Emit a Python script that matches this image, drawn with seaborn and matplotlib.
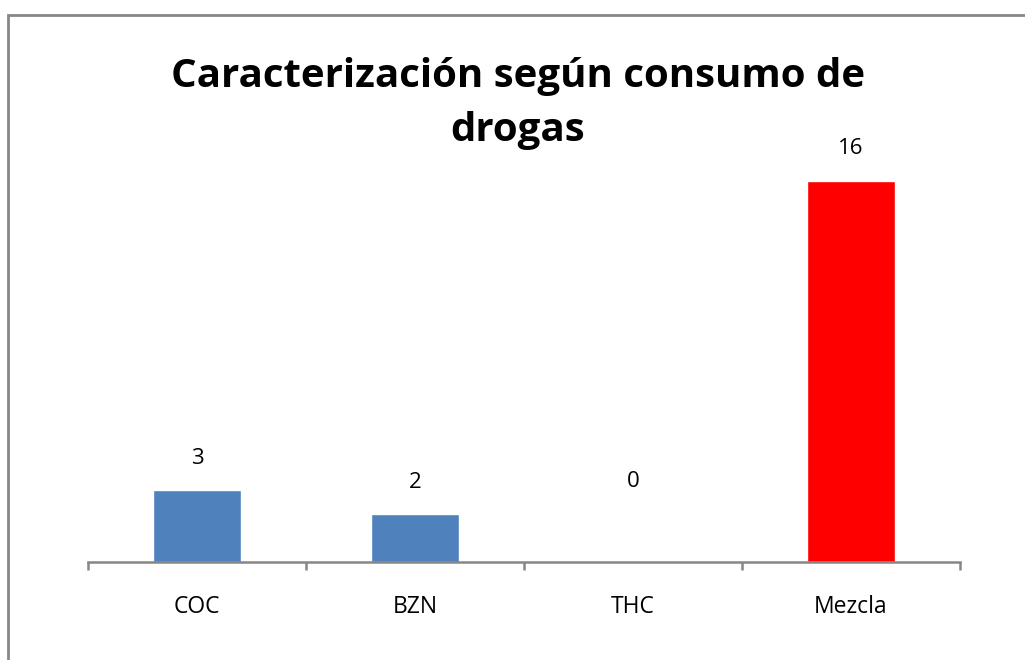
import matplotlib
matplotlib.use("Agg")
import matplotlib.pyplot as plt
from matplotlib.patches import Rectangle
from matplotlib.ticker import FixedLocator
import seaborn as sns
import pandas as pd

categories = ["COC", "BZN", "THC", "Mezcla"]
values = [3, 2, 0, 16]
bar_colors = ["#4F81BD", "#4F81BD", "#4F81BD", "#FF0000"]
title_lines = ["Caracterización según consumo de", "drogas"]

sns.set_theme(style="white")
plt.rcParams["font.family"] = ["Open Sans", "DejaVu Sans"]

df = pd.DataFrame({"droga": categories, "casos": values})

fig = plt.figure(figsize=(10.25, 6.6), dpi=100)
fig.patch.set_facecolor("white")

# chart frame (clipped at right and bottom edges)
fig.patches.append(Rectangle((8 / 1025, -0.1), 1.2, 1 - 15 / 660 + 0.1,
                             transform=fig.transFigure, fill=False,
                             edgecolor="#878787", linewidth=2))

ax = fig.add_axes([88 / 1025, 1 - 561.7 / 660, (960 - 88) / 1025, (561.7 - 133) / 660])
sns.barplot(data=df, x="droga", y="casos", hue="droga",
            palette=dict(zip(categories, bar_colors)), width=0.4,
            saturation=1, legend=False, ax=ax)

ax.set_xlim(-0.5, len(categories) - 0.5)
ax.set_ylim(0, 18)
ax.set_xlabel("")
ax.set_ylabel("")
ax.set_yticks([])
for side in ["left", "right", "top"]:
    ax.spines[side].set_visible(False)
ax.spines["bottom"].set_color("#868686")
ax.spines["bottom"].set_linewidth(1.8)

ax.tick_params(axis="x", which="major", length=0, pad=24, labelsize=16.5, labelcolor="black")
ax.xaxis.set_minor_locator(FixedLocator([i - 0.5 for i in range(len(categories) + 1)]))
ax.tick_params(axis="x", which="minor", bottom=True, length=6, width=1.8,
               color="#868686", direction="out")

for i, v in enumerate(values):
    offset = 58 if v == 0 else 23
    ax.annotate(str(v), (i, v), xytext=(0, offset), textcoords="offset points",
                ha="center", va="center", fontsize=16, color="black")

for k, line in enumerate(title_lines):
    fig.text(0.505, 1 - (76 + 55 * k) / 660, line, ha="center", va="center",
             fontsize=29, fontweight="bold", color="black")

fig.savefig("out.png", dpi=100, facecolor="white")
